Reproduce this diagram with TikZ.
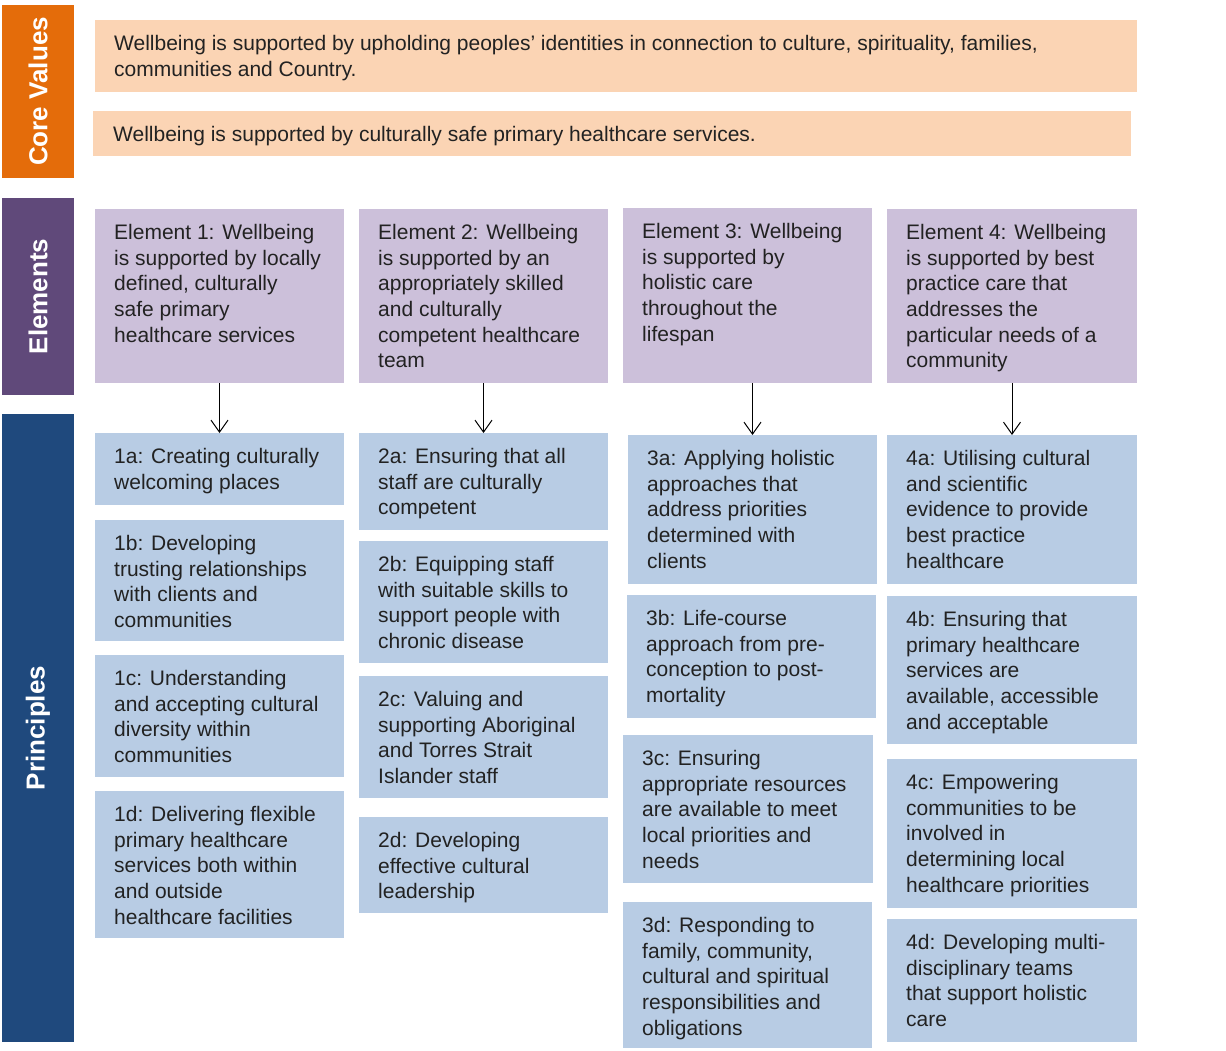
\documentclass[tikz,border=0pt]{standalone}
\usepackage{fontspec}
\setmainfont{Liberation Sans}
\usetikzlibrary{arrows.meta}
\definecolor{coreorange}{RGB}{228,108,10}
\definecolor{elempurple}{RGB}{96,73,122}
\definecolor{prinnavy}{RGB}{31,73,125}
\definecolor{corefill}{RGB}{251,212,180}
\definecolor{elemfill}{RGB}{204,192,218}
\definecolor{prinfill}{RGB}{184,204,228}
\definecolor{bodytext}{RGB}{34,34,34}

\begin{document}
\begin{tikzpicture}[x=1pt,y=1pt,yscale=-1,
    cell/.style={anchor=north west, inner sep=0pt, outer sep=0pt},
    corecell/.style={cell, fill=corefill},
    elemcell/.style={cell, fill=elemfill},
    princell/.style={cell, fill=prinfill},
    celltext/.style={anchor=north west, inner sep=0pt, align=left, text=bodytext,
        font=\fontsize{21}{25.7}\selectfont},
    sidelabel/.style={rotate=90, inner sep=0pt, text=white,
        font=\bfseries\fontsize{26}{30}\selectfont},
    down/.style={-{Straight Barb[length=12pt,width=17pt]}, line width=1pt}]
    \useasboundingbox (0,0) rectangle (1226,1050);

    % Side bars
    \node[cell, fill=coreorange, minimum width=72, minimum height=173] (core) at (2,5) {};
    \node[sidelabel] (core-t) at (core.center) {Core Values};
    \node[cell, fill=elempurple, minimum width=72, minimum height=197] (elem) at (2,198) {};
    \node[sidelabel] (elem-t) at (elem.center) {Elements};
    \node[cell, fill=prinnavy, minimum width=72, minimum height=628] (prin) at (2,414) {};
    \node[sidelabel] (prin-t) at (prin.center) {Principles};

    % Core values
    \node[corecell, minimum width=1042, minimum height=72] (cv1) at (95,20) {};
    \node[celltext] (cv1-t) at ([shift={(19,15)}]cv1.north west) {Wellbeing is supported by upholding peoples' identities in connection to culture, spirituality, families,\\communities and Country.};
    \node[corecell, minimum width=1038, minimum height=45] (cv2) at (93,111) {};
    \node[celltext] (cv2-t) at ([shift={(20,15)}]cv2.north west) {Wellbeing is supported by culturally safe primary healthcare services.};

    % Elements
    \node[elemcell, minimum width=249, minimum height=174] (e1) at (95,209) {};
    \node[celltext] (e1-t) at ([shift={(19,15)}]e1.north west) {Element 1: Wellbeing\\is supported by locally\\defined, culturally\\safe primary\\healthcare services};
    \node[elemcell, minimum width=249, minimum height=174] (e2) at (359,209) {};
    \node[celltext] (e2-t) at ([shift={(19,15)}]e2.north west) {Element 2: Wellbeing\\is supported by an\\appropriately skilled\\and culturally\\competent healthcare\\team};
    \node[elemcell, minimum width=249, minimum height=175] (e3) at (623,208) {};
    \node[celltext] (e3-t) at ([shift={(19,15)}]e3.north west) {Element 3: Wellbeing\\is supported by\\holistic care\\throughout the\\lifespan};
    \node[elemcell, minimum width=250, minimum height=174] (e4) at (887,209) {};
    \node[celltext] (e4-t) at ([shift={(19,15)}]e4.north west) {Element 4: Wellbeing\\is supported by best\\practice care that\\addresses the\\particular needs of a\\community};

    % Principles, column 1
    \node[princell, minimum width=249, minimum height=72] (p1a) at (95,433) {};
    \node[celltext] (p1a-t) at ([shift={(19,15)}]p1a.north west) {1a: Creating culturally\\welcoming places};
    \node[princell, minimum width=249, minimum height=121] (p1b) at (95,520) {};
    \node[celltext] (p1b-t) at ([shift={(19,15)}]p1b.north west) {1b: Developing\\trusting relationships\\with clients and\\communities};
    \node[princell, minimum width=249, minimum height=122] (p1c) at (95,655) {};
    \node[celltext] (p1c-t) at ([shift={(19,15)}]p1c.north west) {1c: Understanding\\and accepting cultural\\diversity within\\communities};
    \node[princell, minimum width=249, minimum height=147] (p1d) at (95,791) {};
    \node[celltext] (p1d-t) at ([shift={(19,15)}]p1d.north west) {1d: Delivering flexible\\primary healthcare\\services both within\\and outside\\healthcare facilities};

    % Principles, column 2
    \node[princell, minimum width=249, minimum height=97] (p2a) at (359,433) {};
    \node[celltext] (p2a-t) at ([shift={(19,15)}]p2a.north west) {2a: Ensuring that all\\staff are culturally\\competent};
    \node[princell, minimum width=249, minimum height=122] (p2b) at (359,541) {};
    \node[celltext] (p2b-t) at ([shift={(19,15)}]p2b.north west) {2b: Equipping staff\\with suitable skills to\\support people with\\chronic disease};
    \node[princell, minimum width=249, minimum height=122] (p2c) at (359,676) {};
    \node[celltext] (p2c-t) at ([shift={(19,15)}]p2c.north west) {2c: Valuing and\\supporting Aboriginal\\and Torres Strait\\Islander staff};
    \node[princell, minimum width=249, minimum height=96] (p2d) at (359,817) {};
    \node[celltext] (p2d-t) at ([shift={(19,15)}]p2d.north west) {2d: Developing\\effective cultural\\leadership};

    % Principles, column 3
    \node[princell, minimum width=249, minimum height=149] (p3a) at (628,435) {};
    \node[celltext] (p3a-t) at ([shift={(19,15)}]p3a.north west) {3a: Applying holistic\\approaches that\\address priorities\\determined with\\clients};
    \node[princell, minimum width=249, minimum height=123] (p3b) at (627,595) {};
    \node[celltext] (p3b-t) at ([shift={(19,15)}]p3b.north west) {3b: Life-course\\approach from pre-\\conception to post-\\mortality};
    \node[princell, minimum width=250, minimum height=148] (p3c) at (623,735) {};
    \node[celltext] (p3c-t) at ([shift={(19,15)}]p3c.north west) {3c: Ensuring\\appropriate resources\\are available to meet\\local priorities and\\needs};
    \node[princell, minimum width=249, minimum height=146] (p3d) at (623,902) {};
    \node[celltext] (p3d-t) at ([shift={(19,15)}]p3d.north west) {3d: Responding to\\family, community,\\cultural and spiritual\\responsibilities and\\obligations};

    % Principles, column 4
    \node[princell, minimum width=250, minimum height=149] (p4a) at (887,435) {};
    \node[celltext] (p4a-t) at ([shift={(19,15)}]p4a.north west) {4a: Utilising cultural\\and scientific\\evidence to provide\\best practice\\healthcare};
    \node[princell, minimum width=250, minimum height=148] (p4b) at (887,596) {};
    \node[celltext] (p4b-t) at ([shift={(19,15)}]p4b.north west) {4b: Ensuring that\\primary healthcare\\services are\\available, accessible\\and acceptable};
    \node[princell, minimum width=250, minimum height=149] (p4c) at (887,759) {};
    \node[celltext] (p4c-t) at ([shift={(19,15)}]p4c.north west) {4c: Empowering\\communities to be\\involved in\\determining local\\healthcare priorities};
    \node[princell, minimum width=250, minimum height=123] (p4d) at (887,919) {};
    \node[celltext] (p4d-t) at ([shift={(19,15)}]p4d.north west) {4d: Developing multi-\\disciplinary teams\\that support holistic\\care};

    % Arrows
    \draw[down] (e1.south -| p1a.north) -- (p1a.north);
    \draw[down] (e2.south -| p2a.north) -- (p2a.north);
    \draw[down] (e3.south -| p3a.north) -- (p3a.north);
    \draw[down] (e4.south -| p4a.north) -- (p4a.north);
\end{tikzpicture}
\end{document}
